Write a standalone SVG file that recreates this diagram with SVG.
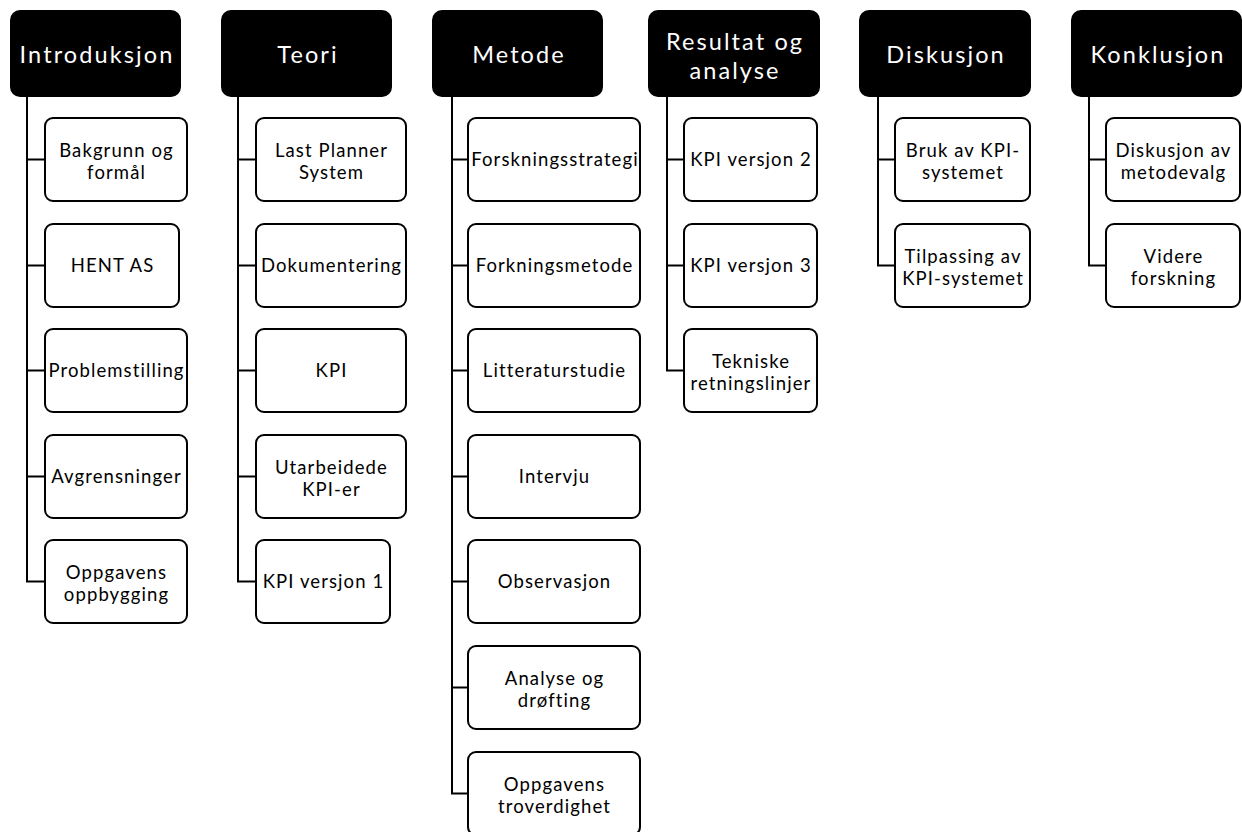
<svg xmlns="http://www.w3.org/2000/svg" width="1242" height="832" viewBox="0 0 1242 832">
  <style>
    text { font-family: Lato, "Open Sans", "Liberation Sans", sans-serif; text-anchor: middle; }
    .hdr rect { fill: #000; }
    .hdr text { fill: #fff; font-size: 23.5px; letter-spacing: 2.1px; }
    .box rect { fill: #fff; stroke: #000; stroke-width: 2; }
    .box text { fill: #000; font-size: 18.5px; letter-spacing: 1.1px; }
    .links path { fill: none; stroke: #000; stroke-width: 2; }
  </style>

  <!-- tree connectors: one trunk per column, one branch per child -->
  <g class="links">
    <path d="M27 97 V581.5 H44 M27 159.5 H44 M27 265.5 H44 M27 370.5 H44 M27 476.5 H44"/>
    <path d="M238 97 V581.5 H255 M238 159.5 H255 M238 265.5 H255 M238 370.5 H255 M238 476.5 H255"/>
    <path d="M452 97 V793.5 H467 M452 159.5 H467 M452 265.5 H467 M452 370.5 H467 M452 476.5 H467 M452 581.5 H467 M452 687.5 H467"/>
    <path d="M667 97 V370.5 H683 M667 159.5 H683 M667 265.5 H683"/>
    <path d="M878 97 V265.5 H894 M878 159.5 H894"/>
    <path d="M1089 97 V265.5 H1105 M1089 159.5 H1105"/>
  </g>

  <!-- column headers -->
  <g id="introduksjon" class="hdr"><rect x="10" y="10" width="171" height="87" rx="10"/><text x="97" y="63">Introduksjon</text></g>
  <g id="teori" class="hdr"><rect x="221" y="10" width="171" height="87" rx="10"/><text x="308" y="63">Teori</text></g>
  <g id="metode" class="hdr"><rect x="432" y="10" width="171" height="87" rx="10"/><text x="519" y="63">Metode</text></g>
  <g id="resultat" class="hdr"><rect x="648" y="10" width="172" height="87" rx="10"/><text x="735" y="50">Resultat og<tspan x="735" dy="28.5">analyse</tspan></text></g>
  <g id="diskusjon" class="hdr"><rect x="859" y="10" width="172" height="87" rx="10"/><text x="946" y="63">Diskusjon</text></g>
  <g id="konklusjon" class="hdr"><rect x="1071" y="10" width="171" height="87" rx="10"/><text x="1158" y="63">Konklusjon</text></g>

  <!-- Introduksjon -->
  <g id="bakgrunn" class="box"><rect x="45" y="118" width="142" height="83" rx="8"/><text x="116.5" y="156.5">Bakgrunn og<tspan x="116.5" dy="22.5">formål</tspan></text></g>
  <g id="hent" class="box"><rect x="45" y="224" width="134" height="83" rx="8"/><text x="112.5" y="272">HENT AS</text></g>
  <g id="problemstilling" class="box"><rect x="45" y="329" width="142" height="83" rx="8"/><text x="116.5" y="377">Problemstilling</text></g>
  <g id="avgrensninger" class="box"><rect x="45" y="435" width="142" height="83" rx="8"/><text x="116.5" y="483">Avgrensninger</text></g>
  <g id="oppbygging" class="box"><rect x="45" y="540" width="142" height="83" rx="8"/><text x="116.5" y="578.5">Oppgavens<tspan x="116.5" dy="22.5">oppbygging</tspan></text></g>

  <!-- Teori -->
  <g id="lps" class="box"><rect x="256" y="118" width="150" height="83" rx="8"/><text x="331.5" y="156.5">Last Planner<tspan x="331.5" dy="22.5">System</tspan></text></g>
  <g id="dokumentering" class="box"><rect x="256" y="224" width="150" height="83" rx="8"/><text x="331.5" y="272">Dokumentering</text></g>
  <g id="kpi" class="box"><rect x="256" y="329" width="150" height="83" rx="8"/><text x="331.5" y="377">KPI</text></g>
  <g id="utarbeidede" class="box"><rect x="256" y="435" width="150" height="83" rx="8"/><text x="331.5" y="473.5">Utarbeidede<tspan x="331.5" dy="22.5">KPI-er</tspan></text></g>
  <g id="kpi1" class="box"><rect x="256" y="540" width="134" height="83" rx="8"/><text x="323.5" y="588">KPI versjon 1</text></g>

  <!-- Metode -->
  <g id="strategi" class="box"><rect x="468" y="118" width="172" height="83" rx="8"/><text x="555" y="166">Forskningsstrategi</text></g>
  <g id="forkningsmetode" class="box"><rect x="468" y="224" width="172" height="83" rx="8"/><text x="554.5" y="272">Forkningsmetode</text></g>
  <g id="litteratur" class="box"><rect x="468" y="329" width="172" height="83" rx="8"/><text x="554.5" y="377">Litteraturstudie</text></g>
  <g id="intervju" class="box"><rect x="468" y="435" width="172" height="83" rx="8"/><text x="554.5" y="483">Intervju</text></g>
  <g id="observasjon" class="box"><rect x="468" y="540" width="172" height="83" rx="8"/><text x="554.5" y="588">Observasjon</text></g>
  <g id="analyse" class="box"><rect x="468" y="646" width="172" height="83" rx="8"/><text x="554.5" y="684.5">Analyse og<tspan x="554.5" dy="22.5">drøfting</tspan></text></g>
  <g id="troverdighet" class="box"><rect x="468" y="752" width="172" height="83" rx="8"/><text x="554.5" y="790.5">Oppgavens<tspan x="554.5" dy="22.5">troverdighet</tspan></text></g>

  <!-- Resultat og analyse -->
  <g id="kpi2" class="box"><rect x="684" y="118" width="133" height="83" rx="8"/><text x="751" y="166">KPI versjon 2</text></g>
  <g id="kpi3" class="box"><rect x="684" y="224" width="133" height="83" rx="8"/><text x="751" y="272">KPI versjon 3</text></g>
  <g id="tekniske" class="box"><rect x="684" y="329" width="133" height="83" rx="8"/><text x="751" y="367.5">Tekniske<tspan x="751" dy="22.5">retningslinjer</tspan></text></g>

  <!-- Diskusjon -->
  <g id="bruk" class="box"><rect x="895" y="118" width="135" height="83" rx="8"/><text x="963" y="156.5">Bruk av KPI-<tspan x="963" dy="22.5">systemet</tspan></text></g>
  <g id="tilpassing" class="box"><rect x="895" y="224" width="135" height="83" rx="8"/><text x="963" y="262.5">Tilpassing av<tspan x="963" dy="22.5">KPI-systemet</tspan></text></g>

  <!-- Konklusjon -->
  <g id="metodevalg" class="box"><rect x="1106" y="118" width="134" height="83" rx="8"/><text x="1173.5" y="156.5">Diskusjon av<tspan x="1173.5" dy="22.5">metodevalg</tspan></text></g>
  <g id="videre" class="box"><rect x="1106" y="224" width="134" height="83" rx="8"/><text x="1173.5" y="262.5">Videre<tspan x="1173.5" dy="22.5">forskning</tspan></text></g>
</svg>
